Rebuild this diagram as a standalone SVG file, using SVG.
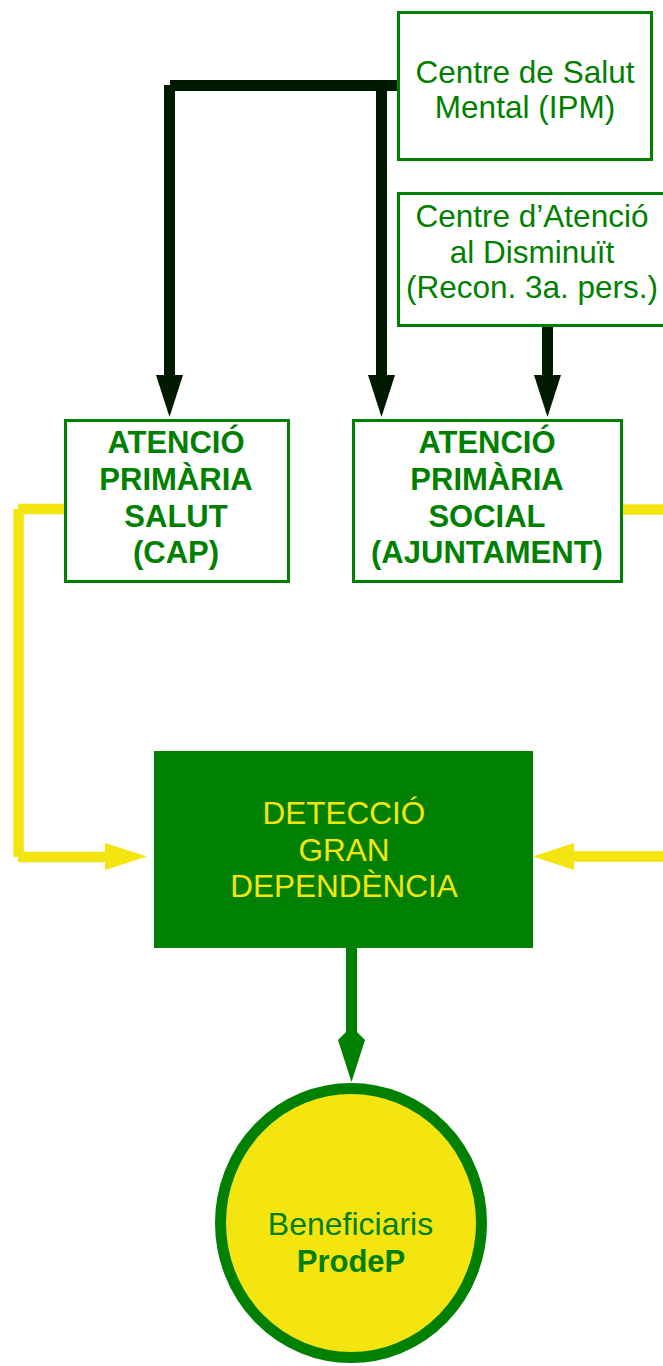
<svg xmlns="http://www.w3.org/2000/svg" width="663" height="1366" viewBox="0 0 663 1366">
<style>
.box{fill:#fff;stroke:#008000;stroke-width:3}
.t{font-family:"Liberation Sans",Arial,sans-serif;font-size:31.5px;fill:#008000;text-anchor:middle}
.b{font-weight:bold;font-size:31px}
.y{fill:#f4e511}
.dk{stroke:#001a00;stroke-width:11;fill:none}
.yl{stroke:#f4e511;stroke-width:10.5;fill:none}
</style>
<rect width="663" height="1366" fill="#fff"/>
<g id="connectors">
  <line class="dk" x1="170" y1="85.5" x2="397" y2="85.5"/>
  <line class="dk" x1="169.5" y1="85" x2="169.5" y2="377"/>
  <polygon points="156,375 183,375 169.5,417" fill="#001a00"/>
  <line class="dk" x1="381.5" y1="86" x2="381.5" y2="377"/>
  <polygon points="368,375 395,375 381.5,417" fill="#001a00"/>
  <line class="dk" x1="547.5" y1="326" x2="547.5" y2="377"/>
  <polygon points="534,375 561,375 547.5,417" fill="#001a00"/>
  <line class="yl" x1="18" y1="509" x2="65" y2="509"/>
  <line class="yl" x1="18.5" y1="509" x2="18.5" y2="857"/>
  <line class="yl" x1="18" y1="857" x2="107" y2="857"/>
  <polygon points="105,843 105,870 147,856.5" fill="#f4e511"/>
  <line class="yl" x1="623" y1="509.5" x2="663" y2="509.5"/>
  <line class="yl" x1="572" y1="856.5" x2="663" y2="856.5"/>
  <polygon points="574,843 574,870 533,856.5" fill="#f4e511"/>
  <polygon points="346,948 357,948 357,1032 365,1040 351.5,1082 338,1040 346,1032" fill="#008000"/>
</g>
<g id="node-salut-mental">
  <rect class="box" x="398.5" y="12.5" width="253" height="147"/>
  <text class="t" x="525" y="83">Centre de Salut</text>
  <text class="t" x="525" y="118">Mental (IPM)</text>
</g>
<g id="node-disminuit">
  <rect class="box" x="398.5" y="193.5" width="268" height="132"/>
  <text class="t" x="532" y="227">Centre d’Atenció</text>
  <text class="t" x="532" y="263">al Disminuït</text>
  <text class="t" x="532" y="298">(Recon. 3a. pers.)</text>
</g>
<g id="node-cap">
  <rect class="box" x="65.5" y="420.5" width="223" height="161"/>
  <text class="t b" x="176" y="453">ATENCIÓ</text>
  <text class="t b" x="176" y="490">PRIMÀRIA</text>
  <text class="t b" x="176" y="527">SALUT</text>
  <text class="t b" x="176" y="563">(CAP)</text>
</g>
<g id="node-social">
  <rect class="box" x="353.5" y="420.5" width="268" height="161"/>
  <text class="t b" x="487" y="453">ATENCIÓ</text>
  <text class="t b" x="487" y="490">PRIMÀRIA</text>
  <text class="t b" x="487" y="527">SOCIAL</text>
  <text class="t b" x="487" y="563">(AJUNTAMENT)</text>
</g>
<g id="node-deteccio">
  <rect x="154" y="751" width="379" height="197" fill="#008000"/>
  <text class="t y" x="344" y="824">DETECCIÓ</text>
  <text class="t y" x="344" y="861">GRAN</text>
  <text class="t y" x="344" y="897">DEPENDÈNCIA</text>
</g>
<g id="node-beneficiaris">
  <ellipse cx="351" cy="1223" rx="130.5" ry="134.5" fill="#f4e511" stroke="#008000" stroke-width="11"/>
  <text class="t" x="350.5" y="1235" style="font-size:32px">Beneficiaris</text>
  <text class="t b" x="351" y="1272" style="font-size:31px">ProdeP</text>
</g>
</svg>
